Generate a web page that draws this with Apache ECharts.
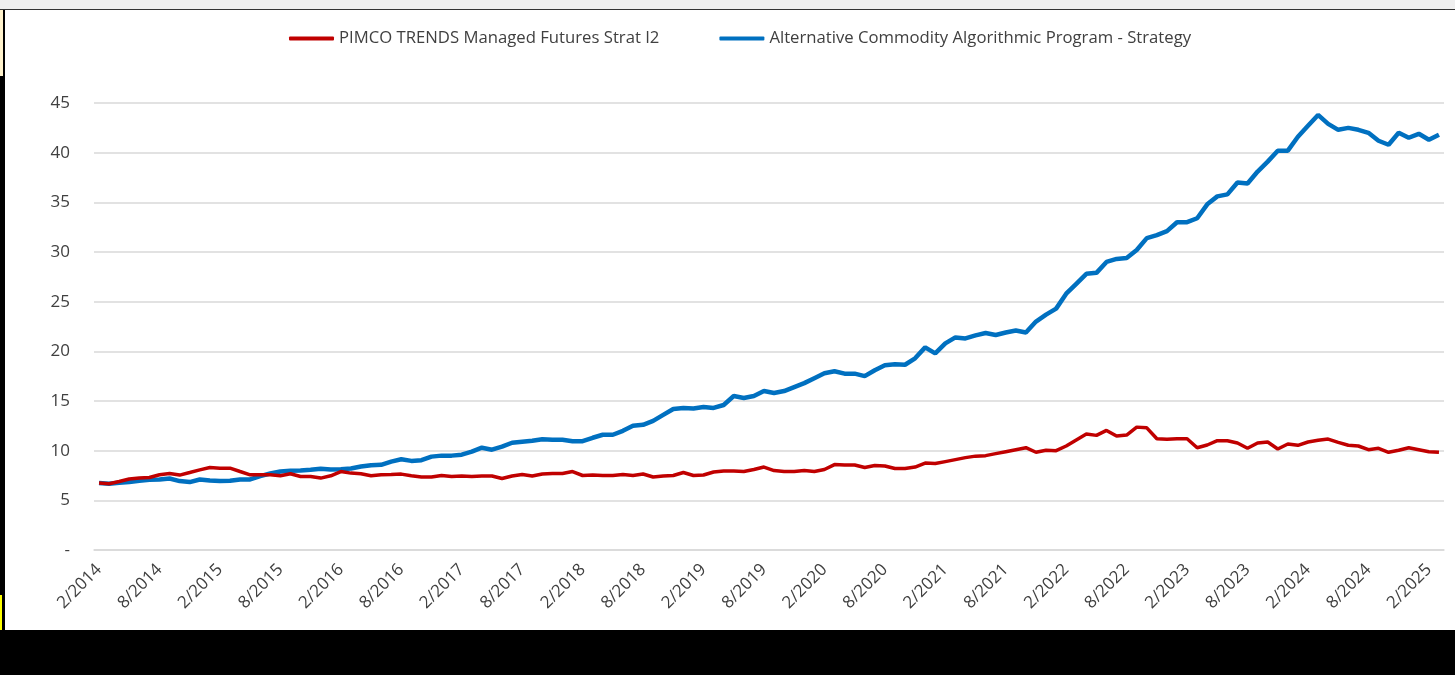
<!DOCTYPE html>
<html>
<head>
<meta charset="utf-8">
<script src="https://cdn.jsdelivr.net/npm/echarts@6/dist/echarts.min.js"></script>
<style>
  html, body { margin: 0; padding: 0; background: #000; }
  #wrap { position: relative; width: 1455px; height: 675px; overflow: hidden; background: #000; }
  #chart { position: absolute; left: 0; top: 0; width: 1455px; height: 675px; }
  .topbar { position: absolute; left: 0; top: 0; width: 1455px; height: 9px; background: #efefef; border-bottom: 1px solid #333; }
  .leftcol { position: absolute; left: 0; top: 10px; width: 5px; height: 665px; background: #000; }
  .cream { position: absolute; left: 0; top: 10px; width: 3px; height: 66px; background: #fff2cc; }
  .yellow { position: absolute; left: 0; top: 595px; width: 2px; height: 80px; background: #ffff00; }
  .bottom { position: absolute; left: 0; top: 630px; width: 1455px; height: 45px; background: #000; }
</style>
</head>
<body>
<div id="wrap">
  <div id="chart"></div>
  <div class="topbar"></div>
  <div class="leftcol"></div>
  <div class="cream"></div>
  <div class="yellow"></div>
  <div class="bottom"></div>
</div>
<script>
  // monthly, 2/2014 .. 3/2025
  const startYear = 2014;
  const startMonth = 2;
  const pointCount = 134;

  const pimco = [
    6.74, 6.67, 6.9, 7.14, 7.24, 7.3, 7.57, 7.7, 7.54, 7.8,
    8.07, 8.3, 8.24, 8.24, 7.9, 7.57, 7.57, 7.57, 7.47, 7.67,
    7.4, 7.4, 7.24, 7.47, 7.9, 7.74, 7.67, 7.47, 7.57, 7.6,
    7.64, 7.47, 7.34, 7.34, 7.5, 7.4, 7.45, 7.4, 7.45, 7.45,
    7.2, 7.45, 7.6, 7.45, 7.65, 7.7, 7.7, 7.9, 7.5, 7.55,
    7.5, 7.5, 7.6, 7.5, 7.65, 7.35, 7.45, 7.5, 7.8, 7.5,
    7.55, 7.85, 7.95, 7.95, 7.9, 8.1, 8.35, 8.0, 7.9, 7.9,
    8.0, 7.9, 8.1, 8.6, 8.55, 8.55, 8.3, 8.5, 8.45, 8.2,
    8.2, 8.35, 8.75, 8.7, 8.9, 9.1, 9.3, 9.45, 9.5, 9.7,
    9.9, 10.1, 10.3, 9.84, 10.04, 10.0, 10.47, 11.07, 11.67, 11.54,
    12.04, 11.47, 11.57, 12.37, 12.3, 11.2, 11.14, 11.2, 11.2, 10.3,
    10.57, 11.0, 11.0, 10.77, 10.24, 10.77, 10.87, 10.17, 10.67, 10.54,
    10.87, 11.04, 11.17, 10.84, 10.54, 10.47, 10.1, 10.24, 9.84, 10.04,
    10.3, 10.1, 9.9, 9.84
  ];

  const acap = [
    6.74, 6.67, 6.77, 6.84, 6.97, 7.07, 7.1, 7.2, 6.94, 6.84,
    7.1, 7.0, 6.94, 6.97, 7.1, 7.1, 7.44, 7.7, 7.9, 7.97,
    8.0, 8.07, 8.17, 8.1, 8.14, 8.2, 8.4, 8.54, 8.57, 8.9,
    9.14, 8.97, 9.04, 9.4, 9.5, 9.5, 9.6, 9.9, 10.3, 10.1,
    10.4, 10.8, 10.9, 11.0, 11.15, 11.1, 11.1, 10.95, 10.95, 11.3,
    11.6, 11.6, 12.0, 12.5, 12.6, 13.0, 13.6, 14.2, 14.3, 14.25,
    14.4, 14.3, 14.6, 15.5, 15.3, 15.5, 16.0, 15.8, 16.0, 16.4,
    16.8, 17.3, 17.8, 18.0, 17.75, 17.75, 17.5, 18.1, 18.6, 18.7,
    18.65, 19.3, 20.4, 19.8, 20.8, 21.4, 21.3, 21.6, 21.85, 21.65,
    21.9, 22.1, 21.9, 23.0, 23.7, 24.3, 25.8, 26.8, 27.8, 27.9,
    29.0, 29.3, 29.4, 30.2, 31.4, 31.7, 32.1, 33.0, 33.0, 33.4,
    34.8, 35.6, 35.8, 37.0, 36.9, 38.1, 39.1, 40.2, 40.2, 41.6,
    42.7, 43.8, 42.9, 42.3, 42.5, 42.3, 42.0, 41.2, 40.8, 42.0,
    41.5, 41.9, 41.3, 41.8
  ];

  const months = [];
  for (let i = 0; i < pointCount; i++) {
    const m = (startMonth - 1 + i) % 12 + 1;
    const y = startYear + Math.floor((startMonth - 1 + i) / 12);
    months.push(m + '/' + y);
  }

  const chart = echarts.init(document.getElementById('chart'));
  const option = {
    backgroundColor: '#ffffff',
    animation: false,
    textStyle: { fontFamily: 'Open Sans' },
    legend: {
      top: 25,
      left: 284,
      itemWidth: 45,
      itemHeight: 4,
      itemGap: 60,
      icon: 'roundRect',
      textStyle: { color: '#404040', fontSize: 16.7, fontFamily: 'Open Sans' },
      data: ['PIMCO TRENDS Managed Futures Strat I2', 'Alternative Commodity Algorithmic Program - Strategy']
    },
    grid: { left: 94, right: 11, top: 103, bottom: 125 },
    xAxis: {
      type: 'category',
      data: months,
      boundaryGap: true,
      axisLine: { show: true, lineStyle: { color: '#d9d9d9', width: 1.5 } },
      axisTick: { show: false },
      axisLabel: {
        interval: 5,
        rotate: 45,
        margin: 17,
        color: '#404040',
        fontSize: 17,
        fontFamily: 'Open Sans'
      }
    },
    yAxis: {
      type: 'value',
      min: 0,
      max: 45,
      interval: 5,
      axisLine: { show: false },
      axisTick: { show: false },
      splitLine: { lineStyle: { color: '#d9d9d9', width: 1.5 } },
      axisLabel: {
        margin: 24,
        color: '#404040',
        fontSize: 17,
        fontFamily: 'Open Sans',
        formatter: function (v) { return v === 0 ? '-' : v; }
      }
    },
    series: [
      {
        name: 'PIMCO TRENDS Managed Futures Strat I2',
        type: 'line',
        data: pimco,
        showSymbol: false,
        symbol: 'none',
        color: '#c00000',
        lineStyle: { color: '#c00000', width: 3.5 },
        z: 3
      },
      {
        name: 'Alternative Commodity Algorithmic Program - Strategy',
        type: 'line',
        data: acap,
        showSymbol: false,
        symbol: 'none',
        color: '#0070c0',
        lineStyle: { color: '#0070c0', width: 4.5 },
        z: 2
      }
    ]
  };
  chart.setOption(option);
</script>
</body>
</html>
